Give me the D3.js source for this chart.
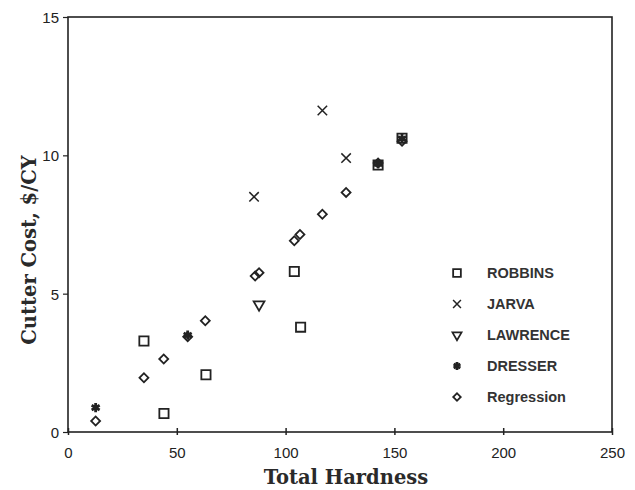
<!DOCTYPE html>
<html>
<head>
<meta charset="utf-8">
<script src="https://cdn.jsdelivr.net/npm/d3@7/dist/d3.min.js"></script>
<style>
  html, body { margin: 0; padding: 0; background: #fff; }
  svg { display: block; }
  .tick-label { font-family: "Liberation Sans", Arial, sans-serif; font-size: 15px; fill: #222; }
  .axis-title { font-family: "DejaVu Serif", serif; font-weight: bold; font-size: 19.5px; fill: #2a2a2a; }
  .legend-label { font-family: "Liberation Sans", Arial, sans-serif; font-weight: bold; font-size: 14.5px; fill: #333; }
</style>
</head>
<body>
<svg id="chart" width="635" height="490"></svg>
<script>
// Cutter cost versus total hardness, by machine manufacturer
const robbinsX  = [34.9, 44.1, 63.4, 104.0, 106.9, 142.5, 153.5];
const robbinsY  = [3.29, 0.67, 2.07, 5.80, 3.79, 9.65, 10.62];
const jarvaX    = [85.5, 116.9, 127.8];
const jarvaY    = [8.50, 11.62, 9.90];
const lawrenceX = [87.8];
const lawrenceY = [4.61];
const dresserX  = [12.7, 55.0, 142.5, 153.5];
const dresserY  = [0.88, 3.50, 9.70, 10.60];
const regressionX = [12.7, 34.9, 44.0, 55.0, 63.1, 86.0, 87.8, 104.0, 106.6, 116.9, 127.8, 142.5, 153.5];
const regressionY = [0.40, 1.96, 2.64, 3.44, 4.02, 5.64, 5.76, 6.91, 7.14, 7.87, 8.66, 9.72, 10.51];

const xTicks = [0, 50, 100, 150, 200, 250];
const yTicks = [0, 5, 10, 15];
const seriesNames = ["ROBBINS", "JARVA", "LAWRENCE", "DRESSER", "Regression"];

const ink = "#222";
const svg = d3.select("#chart");
const margin = { left: 68, right: 23, top: 17, bottom: 58 };
const W = 635, H = 490;

const x = d3.scaleLinear().domain([0, 250]).range([margin.left, W - margin.right]);
const y = d3.scaleLinear().domain([0, 15]).range([H - margin.bottom, margin.top]);

// frame
svg.append("rect")
  .attr("x", x(0)).attr("y", y(15))
  .attr("width", x(250) - x(0)).attr("height", y(0) - y(15))
  .attr("fill", "none").attr("stroke", ink).attr("stroke-width", 1.6);

// x axis: ticks crossing the bottom edge
const xAxis = svg.append("g").attr("transform", `translate(0,${y(0)})`)
  .call(d3.axisBottom(x).tickValues(xTicks).tickSize(0).tickFormat(d3.format("d")));
xAxis.select(".domain").remove();
xAxis.selectAll(".tick line").remove();
xAxis.selectAll(".tick").append("line")
  .attr("y1", -4).attr("y2", 3).attr("stroke", ink).attr("stroke-width", 1.5);
xAxis.selectAll(".tick text").attr("class", "tick-label").attr("dy", null).attr("y", 26);
xAxis.attr("font-family", null).attr("font-size", null);

// y axis: ticks outward on the left edge
const yAxis = svg.append("g").attr("transform", `translate(${x(0)},0)`)
  .call(d3.axisLeft(y).tickValues(yTicks).tickSize(5).tickPadding(4).tickFormat(d3.format("d")));
yAxis.select(".domain").remove();
yAxis.selectAll(".tick line").attr("stroke", ink).attr("stroke-width", 1.2);
yAxis.selectAll(".tick text").attr("class", "tick-label").attr("dy", "0.36em");
yAxis.attr("font-family", null).attr("font-size", null);

// axis titles
svg.append("text").attr("class", "axis-title")
  .attr("x", 346).attr("y", 484).attr("text-anchor", "middle")
  .text("Total Hardness");
svg.append("text").attr("class", "axis-title")
  .attr("transform", `translate(36,250) rotate(-90)`).attr("text-anchor", "middle")
  .text("Cutter Cost, $/CY");

// marker shapes (diamond = square turned 45 degrees)
const markers = {
  ROBBINS:    { type: d3.symbolSquare,   size: 85, sw: 1.8 },
  JARVA:      { type: d3.symbolX,        size: 60, sw: 1.5 },
  LAWRENCE:   { type: d3.symbolTriangle, size: 52, sw: 1.7, rot: 180 },
  DRESSER:    { type: d3.symbolAsterisk, size: 60, sw: 2.8 },
  Regression: { type: d3.symbolSquare,   size: 40, sw: 1.8, rot: 45 }
};

function drawSeries(name, xs, ys) {
  const m = markers[name];
  const pts = xs.map((v, i) => [v, ys[i]]);
  svg.append("g").selectAll("path").data(pts).join("path")
    .attr("d", d3.symbol().type(m.type).size(m.size))
    .attr("transform", d => `translate(${x(d[0])},${y(d[1])})` + (m.rot ? ` rotate(${m.rot})` : ""))
    .attr("fill", "none").attr("stroke", ink).attr("stroke-width", m.sw)
    .attr("stroke-linejoin", "miter");
}

drawSeries("Regression", regressionX, regressionY);
drawSeries("ROBBINS", robbinsX, robbinsY);
drawSeries("JARVA", jarvaX, jarvaY);
drawSeries("LAWRENCE", lawrenceX, lawrenceY);
drawSeries("DRESSER", dresserX, dresserY);

// legend
const legendY = d3.scalePoint().domain(seriesNames).range([273, 397]);
const legend = svg.append("g");
seriesNames.forEach(name => {
  const m = markers[name];
  legend.append("path")
    .attr("d", d3.symbol().type(m.type).size(m.size * 0.7))
    .attr("transform", `translate(457,${legendY(name)})` + (m.rot ? ` rotate(${m.rot})` : ""))
    .attr("fill", "none").attr("stroke", ink).attr("stroke-width", m.sw);
  legend.append("text").attr("class", "legend-label")
    .attr("x", 487).attr("y", legendY(name)).attr("dy", "0.36em")
    .text(name);
});
</script>
</body>
</html>
